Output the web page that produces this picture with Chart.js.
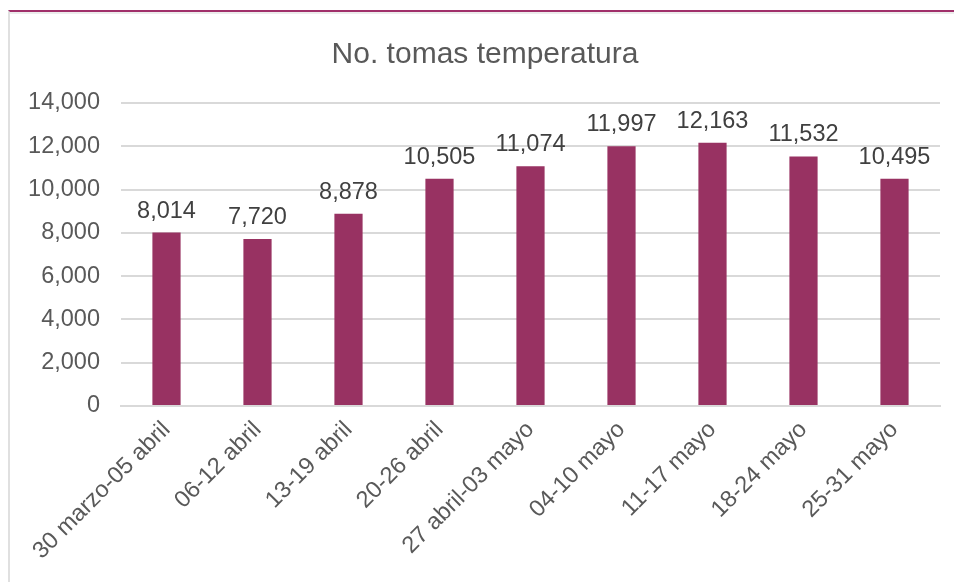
<!DOCTYPE html>
<html>
<head>
<meta charset="utf-8">
<script src="https://cdn.jsdelivr.net/npm/chart.js@4/dist/chart.umd.min.js"></script>
<style>
  body { margin: 0; background: #fff; }
  #wrap { position: relative; width: 954px; height: 582px; }
  #frame {
    position: absolute; left: 8px; top: 10px; width: 946px; height: 572px;
    border-top: 2px solid #a0306a; border-left: 2px solid #e0e0e0;
    box-shadow: inset 0 2px 0 #ececec;
  }
  #chart { position: absolute; left: 0; top: 0; }
</style>
</head>
<body>
<div id="wrap">
  <div id="frame"></div>
  <canvas id="chart" width="954" height="582"></canvas>
</div>
<script>
const chartTitle = 'No. tomas temperatura';
const weeks = [
  '30 marzo-05 abril', '06-12 abril', '13-19 abril', '20-26 abril',
  '27 abril-03 mayo', '04-10 mayo', '11-17 mayo', '18-24 mayo', '25-31 mayo'
];
const tomas = [8014, 7720, 8878, 10505, 11074, 11997, 12163, 11532, 10495];
const yTicks = [0, 2000, 4000, 6000, 8000, 10000, 12000, 14000];

const FONT = '"Liberation Sans", Arial, sans-serif';
const fmt = v => v.toLocaleString('en-US');

// title + value labels over each bar
const extras = {
  id: 'extras',
  afterDatasetsDraw(chart) {
    const ctx = chart.ctx;
    ctx.save();
    ctx.fillStyle = '#595959';
    ctx.font = '30px ' + FONT;
    ctx.textAlign = 'center';
    ctx.textBaseline = 'alphabetic';
    ctx.fillText(chartTitle, 485, 63);

    ctx.font = '23.5px ' + FONT;
    ctx.fillStyle = '#404040';
    chart.getDatasetMeta(0).data.forEach((bar, i) => {
      ctx.fillText(fmt(tomas[i]), bar.x, bar.y - 15);
    });
    ctx.restore();
  }
};

new Chart(document.getElementById('chart'), {
  type: 'bar',
  data: {
    labels: weeks,
    datasets: [{
      label: chartTitle,
      data: tomas,
      backgroundColor: '#983262',
      barPercentage: 0.31,
      categoryPercentage: 1
    }]
  },
  options: {
    responsive: false,
    animation: false,
    layout: { padding: { left: 0, right: 14, top: 103, bottom: 0 } },
    plugins: {
      legend: { display: false },
      tooltip: { enabled: false },
      title: { display: false }
    },
    scales: {
      x: {
        grid: { display: false, drawTicks: false },
        border: { color: '#d9d9d9', width: 2 },
        ticks: {
          color: '#595959',
          font: { family: FONT, size: 23.5 },
          minRotation: 45, maxRotation: 45,
          padding: 10
        },
        afterFit(scale) { scale.height = 176; }
      },
      y: {
        min: 0, max: 14000,
        afterBuildTicks(scale) { scale.ticks = yTicks.map(v => ({ value: v })); },
        grid: { color: '#d9d9d9', lineWidth: 2, drawTicks: false },
        border: { display: false },
        ticks: {
          color: '#595959',
          font: { family: FONT, size: 23.5 },
          padding: 21,
          callback: v => fmt(v)
        },
        afterFit(scale) { scale.width = 121; }
      }
    }
  },
  plugins: [extras]
});
</script>
</body>
</html>
